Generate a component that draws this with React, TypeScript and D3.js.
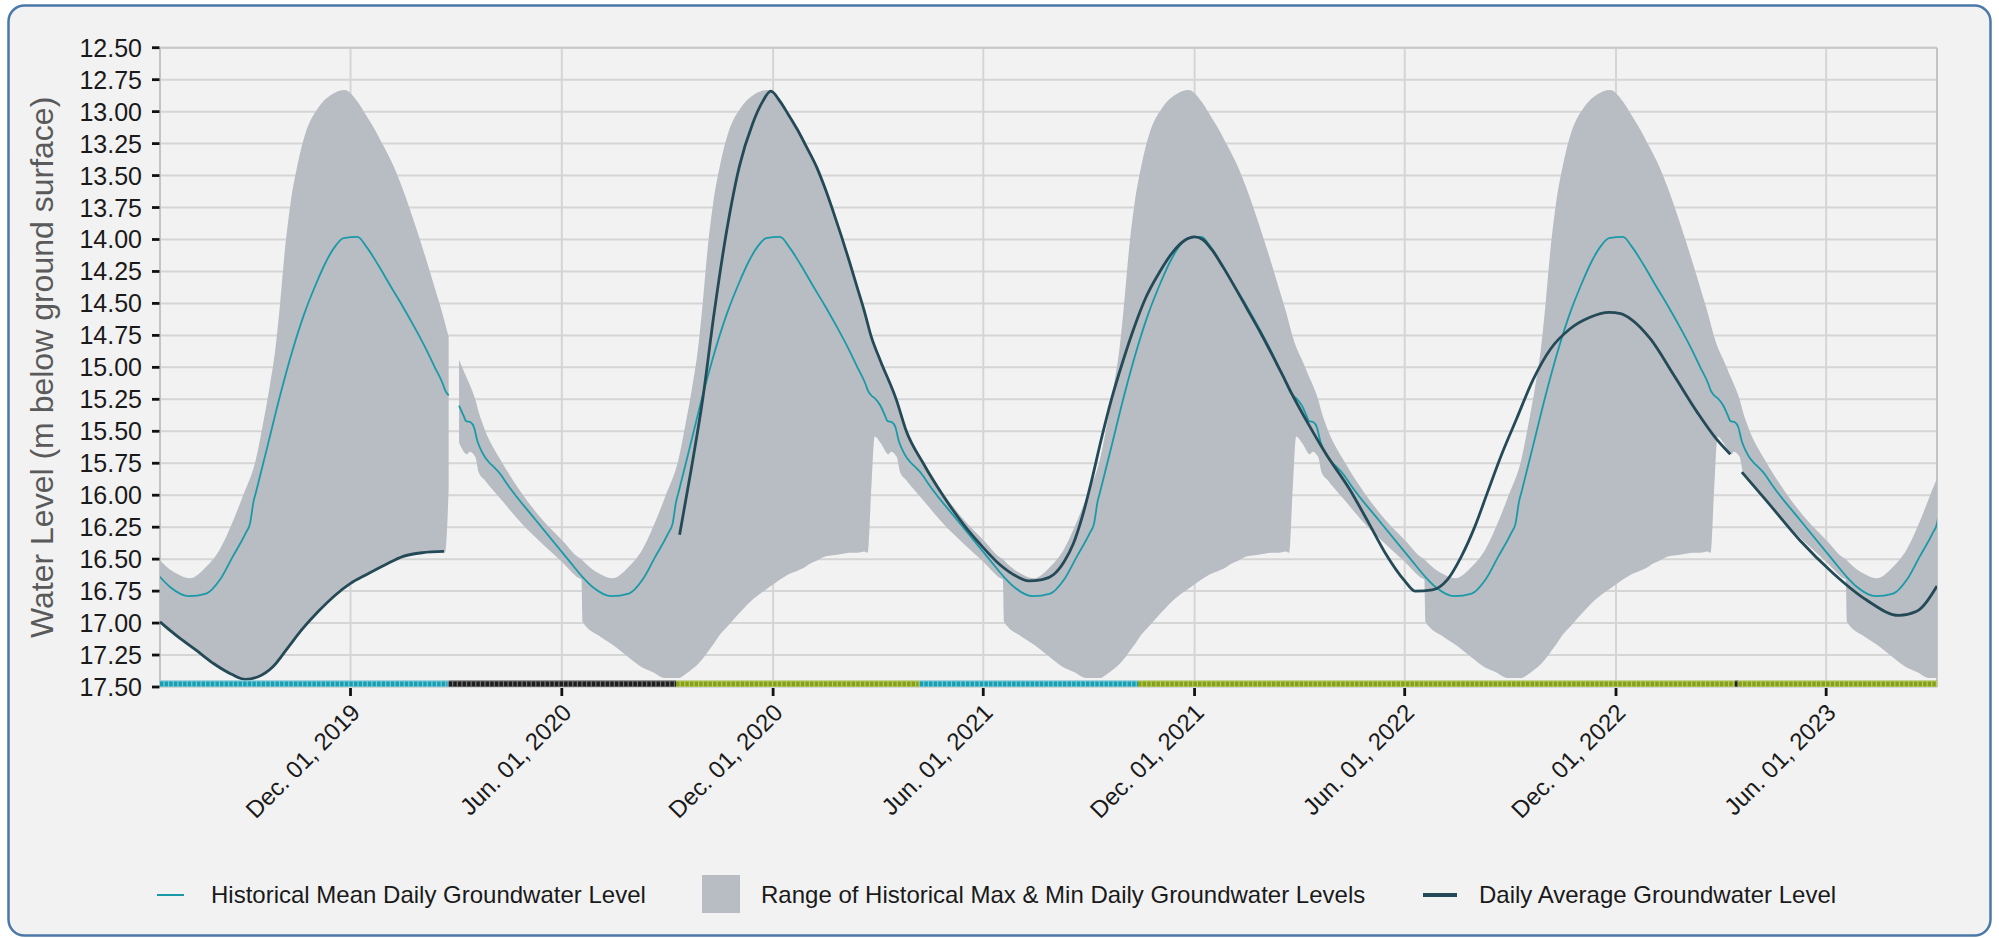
import React from "react";
import * as d3 from "d3";

// ---------- DATA ----------
const yTickValues = [12.5, 12.75, 13, 13.25, 13.5, 13.75, 14, 14.25, 14.5, 14.75, 15, 15.25, 15.5, 15.75, 16, 16.25, 16.5, 16.75, 17, 17.25, 17.5];
const xTickDates = ["2019-12-01", "2020-06-01", "2020-12-01", "2021-06-01", "2021-12-01", "2022-06-01", "2022-12-01", "2023-06-01"];
const xTickLabels = ["Dec. 01, 2019", "Jun. 01, 2020", "Dec. 01, 2020", "Jun. 01, 2021", "Dec. 01, 2021", "Jun. 01, 2022", "Dec. 01, 2022", "Jun. 01, 2023"];
const dateDomain = ["2019-06-19", "2023-09-05"];

// historical range (per day of year): shallowest (top) and deepest (bottom)
const bandDays = ["01-01", "01-08", "01-15", "01-22", "01-29", "02-05", "02-12", "02-18", "02-21", "02-24", "02-27", "03-04", "03-11", "03-13", "03-18", "03-21", "03-26", "04-10", "04-27", "05-15", "06-01", "06-16", "06-18", "06-19", "07-05", "07-15", "07-29", "08-10", "08-18", "08-30", "09-10", "09-16", "09-22", "09-27", "10-01", "10-05", "10-10", "10-16", "10-23", "11-03", "11-14", "11-26", "12-07", "12-14", "12-22", "12-29"];
const bandTop = [13.31, 13.44, 13.60, 13.78, 13.97, 14.17, 14.38, 14.56, 14.66, 14.76, 14.84, 14.94, 15.09, 15.13, 15.25, 15.35, 15.48, 15.74, 15.98, 16.19, 16.35, 16.49, 16.50, 16.51, 16.62, 16.65, 16.56, 16.42, 16.27, 16.00, 15.72, 15.45, 15.15, 14.85, 14.50, 14.10, 13.72, 13.42, 13.17, 12.97, 12.87, 12.83, 12.92, 13.02, 13.14, 13.26];
const bandBottom = [16.54, 16.51, 16.48, 16.47, 16.46, 16.45, 16.45, 16.44, 16.45, 15.95, 15.54, 15.59, 15.68, 15.66, 15.70, 15.82, 15.88, 16.04, 16.22, 16.38, 16.52, 16.65, 16.66, 16.99, 17.11, 17.17, 17.27, 17.35, 17.38, 17.43, 17.43, 17.40, 17.36, 17.32, 17.28, 17.23, 17.17, 17.09, 17.02, 16.91, 16.81, 16.73, 16.66, 16.62, 16.59, 16.56];

// historical mean (per day of year)
const meanDays = ["01-05", "01-15", "01-25", "02-04", "02-12", "02-19", "02-21", "02-24", "02-27", "03-04", "03-08", "03-10", "03-14", "03-17", "03-20", "04-10", "04-16", "05-09", "06-07", "06-19", "06-28", "07-14", "07-29", "08-10", "08-21", "09-01", "09-05", "09-08", "09-10", "09-20", "10-01", "10-12", "10-22", "11-01", "11-10", "11-18", "11-25", "12-07", "12-15", "12-25"];
const meanValues = [14.37, 14.52, 14.68, 14.85, 15.00, 15.13, 15.18, 15.22, 15.24, 15.30, 15.38, 15.42, 15.43, 15.47, 15.58, 15.85, 15.93, 16.19, 16.51, 16.64, 16.72, 16.79, 16.77, 16.66, 16.48, 16.30, 16.22, 16.05, 15.98, 15.62, 15.22, 14.86, 14.58, 14.35, 14.17, 14.05, 13.99, 13.98, 14.06, 14.20];

const histYears = [2019, 2020, 2021, 2022, 2023];
const histGapStart = ["2020-02-25"];
const histGapEnd = ["2020-03-03"];

// daily average groundwater level (null = no data)
const avgDates = [
  "2019-06-19", "2019-07-05", "2019-07-20", "2019-08-05", "2019-08-20", "2019-09-01", "2019-09-12", "2019-09-25", "2019-10-08", "2019-10-20", "2019-11-03", "2019-11-18", "2019-12-01", "2019-12-15", "2020-01-01", "2020-01-15", "2020-02-01", "2020-02-20",
  "2020-06-01",
  "2020-09-11", "2020-09-21", "2020-10-01", "2020-10-11", "2020-10-22", "2020-11-02", "2020-11-13", "2020-11-22", "2020-11-29", "2020-12-07", "2020-12-14", "2020-12-22", "2020-12-29",
  "2021-01-08", "2021-01-15", "2021-01-22", "2021-01-29", "2021-02-05", "2021-02-12", "2021-02-18", "2021-02-24", "2021-03-04", "2021-03-18", "2021-03-26", "2021-04-10", "2021-04-27", "2021-05-15", "2021-06-01", "2021-06-15", "2021-07-01", "2021-07-10", "2021-07-22", "2021-08-01", "2021-08-10", "2021-08-18", "2021-08-26", "2021-09-03", "2021-09-11", "2021-09-20", "2021-09-30", "2021-10-10", "2021-10-20", "2021-11-01", "2021-11-12", "2021-11-22", "2021-12-01", "2021-12-08", "2021-12-16", "2021-12-26",
  "2022-01-06", "2022-01-16", "2022-01-26", "2022-02-05", "2022-02-14", "2022-02-24", "2022-03-10", "2022-03-25", "2022-04-14", "2022-05-01", "2022-05-15", "2022-06-01", "2022-06-10", "2022-06-25", "2022-07-08", "2022-07-20", "2022-08-01", "2022-08-12", "2022-08-24", "2022-09-06", "2022-09-20", "2022-10-05", "2022-10-22", "2022-11-08", "2022-11-25", "2022-12-05", "2022-12-15", "2022-12-31",
  "2023-01-20", "2023-02-10", "2023-02-25", "2023-03-10",
  "2023-03-15",
  "2023-03-20", "2023-04-10", "2023-05-09", "2023-06-07", "2023-07-06", "2023-08-03", "2023-08-18", "2023-09-05"];
const avgValues: (number | null)[] = [
  16.99, 17.11, 17.21, 17.32, 17.40, 17.44, 17.42, 17.34, 17.19, 17.05, 16.91, 16.78, 16.69, 16.62, 16.54, 16.48, 16.45, 16.44,
  null,
  16.31, 15.80, 15.25, 14.57, 13.92, 13.42, 13.10, 12.92, 12.84, 12.92, 13.02, 13.14, 13.26,
  13.44, 13.60, 13.78, 13.97, 14.17, 14.38, 14.56, 14.76, 14.95, 15.26, 15.49, 15.75, 16.00, 16.23, 16.41, 16.54, 16.64, 16.67, 16.66, 16.62, 16.52, 16.38, 16.16, 15.88, 15.57, 15.25, 14.95, 14.68, 14.45, 14.25, 14.10, 14.01, 13.98, 14.00, 14.08, 14.22,
  14.39, 14.55, 14.71, 14.88, 15.04, 15.22, 15.45, 15.68, 15.95, 16.22, 16.45, 16.67, 16.75, 16.74, 16.66, 16.48, 16.24, 15.97, 15.68, 15.40, 15.10, 14.86, 14.70, 14.61, 14.57, 14.58, 14.63, 14.78,
  15.06, 15.36, 15.55, 15.68,
  null,
  15.82, 16.04, 16.35, 16.61, 16.82, 16.94, 16.91, 16.71];

// status strip along the bottom
const stripStarts = ["2019-06-19", "2020-02-24", "2020-09-08", "2021-04-07", "2021-10-13", "2023-03-14", "2023-03-17"];
const stripEnds = ["2020-02-24", "2020-09-08", "2021-04-07", "2021-10-13", "2023-03-14", "2023-03-17", "2023-09-05"];
const stripClasses = ["cyan", "black", "green", "cyan", "green", "black", "green"];

const legendLabels = ["Historical Mean Daily Groundwater Level", "Range of Historical Max & Min Daily Groundwater Levels", "Daily Average Groundwater Level"];

// ---------- STYLE ----------
const COL = {
  bg: "#f2f2f2",
  frame: "#4a78a8",
  grid: "#d5d5d5",
  band: "#b8bcc3",
  mean: "#1a9aa8",
  avg: "#244a57",
  text: "#1a1a1a",
  title: "#5a5a5a",
};
const STRIP: Record<string, { fill: string; light: string }> = {
  cyan: { fill: "#179fb3", light: "#7fc9d5" },
  black: { fill: "#1e1e1e", light: "#777777" },
  green: { fill: "#86a017", light: "#b7cb68" },
};
const FONT = "'Liberation Sans', Arial, Helvetica, sans-serif";

const W = 1999, H = 938;
const PL = 160, PR = 1937, PT = 47.7, PB = 687;

const parseDay = (s: string) => new Date(s + "T00:00:00Z");
const DAY = 86400000;

type BandPt = { date: Date; top: number; bottom: number; ok: boolean };
type LinePt = { date: Date; v: number; ok: boolean };

function inGap(d: Date) {
  for (let i = 0; i < histGapStart.length; i++) {
    if (d >= parseDay(histGapStart[i]) && d <= parseDay(histGapEnd[i])) return true;
  }
  return false;
}

function withGaps<T extends { date: Date }>(pts: T[], mk: (d: Date) => T): T[] {
  pts.sort((a, b) => +a.date - +b.date);
  const out = pts.filter((p) => !inGap(p.date));
  const res: T[] = [];
  out.forEach((p, i) => {
    if (i > 0) {
      const prev = out[i - 1];
      for (let g = 0; g < histGapStart.length; g++) {
        const gs = parseDay(histGapStart[g]);
        if (prev.date < gs && p.date > gs) res.push(mk(gs));
      }
    }
    res.push(p);
  });
  return res;
}

function buildBand(): BandPt[] {
  const pts: BandPt[] = [];
  histYears.forEach((yr) => {
    bandDays.forEach((md, i) => {
      pts.push({ date: parseDay(`${yr}-${md}`), top: bandTop[i], bottom: bandBottom[i], ok: true });
    });
  });
  return withGaps(pts, (d) => ({ date: d, top: 0, bottom: 0, ok: false }));
}

function buildMean(): LinePt[] {
  const pts: LinePt[] = [];
  histYears.forEach((yr) => {
    meanDays.forEach((md, i) => {
      pts.push({ date: parseDay(`${yr}-${md}`), v: meanValues[i], ok: true });
    });
  });
  return withGaps(pts, (d) => ({ date: d, v: 0, ok: false }));
}

export default function App() {
  const x = d3.scaleUtc().domain(dateDomain.map(parseDay)).range([PL, PR]);
  const y = d3.scaleLinear().domain([12.5, 17.5]).range([PT, PB]);

  const bandData = buildBand();
  const meanData = buildMean();
  const avgData: LinePt[] = avgDates.map((d, i) => ({ date: parseDay(d), v: avgValues[i] ?? 0, ok: avgValues[i] !== null }));

  const area = d3.area<BandPt>()
    .defined((d) => d.ok)
    .x((d) => x(d.date))
    .y0((d) => y(d.bottom))
    .y1((d) => y(d.top))
    .curve(d3.curveMonotoneX);
  const line = d3.line<LinePt>()
    .defined((d) => d.ok)
    .x((d) => x(d.date))
    .y((d) => y(d.v))
    .curve(d3.curveMonotoneX);

  // strip cells
  const cells: { x: number; w: number; cls: string }[] = [];
  const segs: { x0: number; x1: number; cls: string }[] = [];
  stripStarts.forEach((s, i) => {
    const t0 = +parseDay(s), t1 = +parseDay(stripEnds[i]);
    segs.push({ x0: x(new Date(t0)), x1: x(new Date(t1)), cls: stripClasses[i] });
    for (let t = t0; t < t1; t += 4 * DAY) {
      const xa = x(new Date(t));
      const xb = x(new Date(Math.min(t + 4 * DAY, t1)));
      cells.push({ x: xa, w: Math.max(1.2, xb - xa - 1.2), cls: stripClasses[i] });
    }
  });

  const xTicks = xTickDates.map(parseDay);
  const midY = (PT + PB) / 2;

  return (
    <svg width={W} height={H} style={{ position: "absolute", left: 0, top: 0, display: "block" }} fontFamily={FONT}>
      <defs>
        <clipPath id="plotClip">
          <rect x={PL} y={PT - 10} width={PR - PL} height={PB - PT + 10} />
        </clipPath>
      </defs>
      <rect x={0} y={0} width={W} height={H} fill="#ffffff" />
      <rect x={8.5} y={5.5} width={1982} height={930} rx={16} ry={16} fill={COL.bg} stroke={COL.frame} strokeWidth={2.5} />

      {/* grid */}
      {yTickValues.map((v) => (
        <line key={"gy" + v} x1={PL} x2={PR} y1={y(v)} y2={y(v)} stroke={COL.grid} strokeWidth={2} />
      ))}
      {xTicks.map((d, i) => (
        <line key={"gx" + i} x1={x(d)} x2={x(d)} y1={PT} y2={PB} stroke={COL.grid} strokeWidth={2} />
      ))}
      <line x1={PL} x2={PL} y1={PT} y2={PB} stroke="#c4c4c4" strokeWidth={2} />
      <line x1={PR} x2={PR} y1={PT} y2={PB} stroke="#c4c4c4" strokeWidth={2} />
      <line x1={PL} x2={PR} y1={PT} y2={PT} stroke="#c8c8c8" strokeWidth={2} />

      <g clipPath="url(#plotClip)">
        <path d={area(bandData) || ""} fill={COL.band} />
        <path d={line(meanData) || ""} fill="none" stroke={COL.mean} strokeWidth={1.8} />
        <path d={line(avgData) || ""} fill="none" stroke={COL.avg} strokeWidth={2.8} />
      </g>

      {/* status strip */}
      {segs.map((s, i) => (
        <rect key={"sg" + i} x={s.x0} y={680.3} width={s.x1 - s.x0} height={6.7} fill={STRIP[s.cls].light} />
      ))}
      {cells.map((c, i) => (
        <rect key={"sc" + i} x={c.x} y={681.5} width={c.w} height={4.8} fill={STRIP[c.cls].fill} />
      ))}

      {/* y axis */}
      {yTickValues.map((v) => (
        <g key={"ty" + v}>
          <line x1={152} x2={159.5} y1={y(v)} y2={y(v)} stroke="#111" strokeWidth={2.8} />
          <text x={142} y={y(v)} dy="0.36em" textAnchor="end" fontSize={25} fill={COL.text}>{v.toFixed(2)}</text>
        </g>
      ))}
      <text transform={`translate(53,${midY}) rotate(-90)`} textAnchor="middle" fontSize={32} fill={COL.title}>
        Water Level (m below ground surface)
      </text>

      {/* x axis */}
      {xTicks.map((d, i) => (
        <g key={"tx" + i}>
          <line x1={x(d)} x2={x(d)} y1={688} y2={696} stroke="#111" strokeWidth={2.8} />
          <text transform={`translate(${x(d) + 11},${714}) rotate(-45)`} textAnchor="end" fontSize={24} fill={COL.text}>
            {xTickLabels[i]}
          </text>
        </g>
      ))}

      {/* legend */}
      <line x1={157} x2={184} y1={895} y2={895} stroke={COL.mean} strokeWidth={2} />
      <text x={211} y={895} dy="0.35em" fontSize={24} fill={COL.text}>{legendLabels[0]}</text>
      <rect x={702} y={875} width={38} height={38} fill={COL.band} />
      <text x={761} y={895} dy="0.35em" fontSize={24} fill={COL.text}>{legendLabels[1]}</text>
      <line x1={1423} x2={1457} y1={895} y2={895} stroke={COL.avg} strokeWidth={4} />
      <text x={1479} y={895} dy="0.35em" fontSize={24} fill={COL.text}>{legendLabels[2]}</text>
    </svg>
  );
}
